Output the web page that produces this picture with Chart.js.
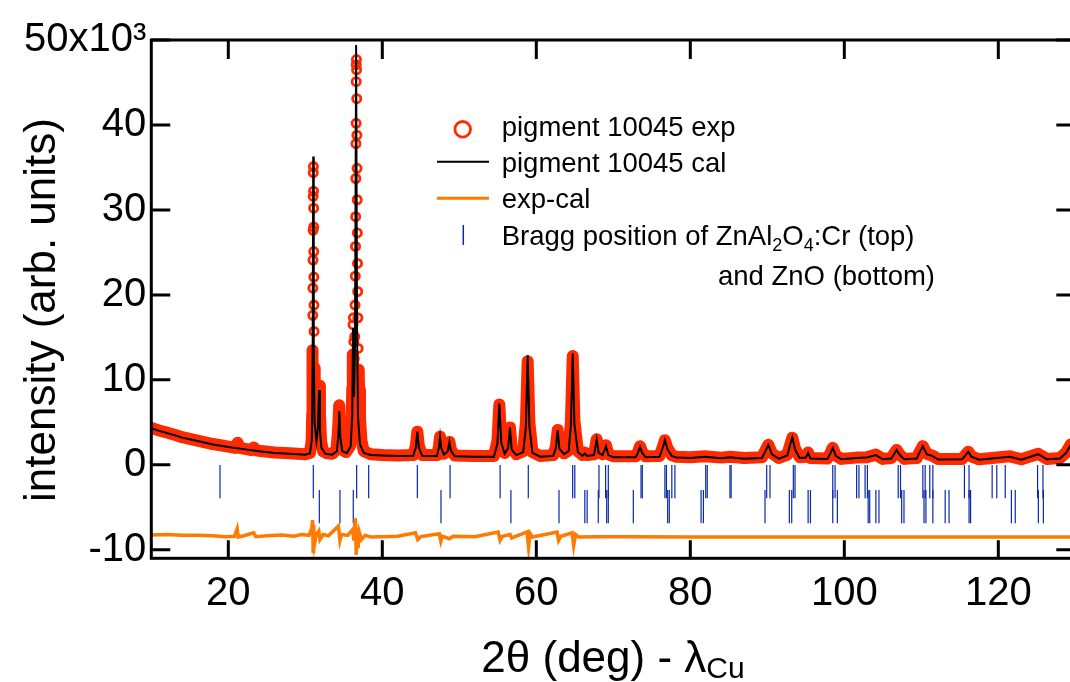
<!DOCTYPE html>
<html>
<head>
<meta charset="utf-8">
<script src="https://cdn.jsdelivr.net/npm/chart.js@4.4.1/dist/chart.umd.min.js"></script>
<style>
html,body{margin:0;padding:0;background:#fff;overflow:hidden;}
canvas{display:block;}
</style>
</head>
<body>
<canvas id="c" width="1070" height="682" style="width:1070px;height:682px"></canvas>
<script>
// calculated profile (x in deg 2theta, y in 10^3 counts)
const calX=[10,11,12,13,14,15,16,17,18,19,
  20,22,24,26,28,30,30.6,30.85,30.95,31.03,
  31.1,31.2,31.45,31.65,31.78,31.9,32.1,32.6,33.5,34.1,
  34.3,34.42,34.55,34.8,35.4,35.9,36.1,36.2,36.32,36.45,
  36.6,36.72,36.85,37.1,37.6,38.5,40,42,44,44.35,
  44.55,44.75,45.2,47.1,47.35,47.5,47.65,48,48.5,48.72,
  48.9,49.4,52,54.5,54.95,55.2,55.45,55.9,56.35,56.58,
  56.8,57.4,58.3,58.65,58.88,59.1,59.5,60.5,62.2,62.55,
  62.78,63,63.6,64.2,64.5,64.73,64.95,65.4,66,66.3,
  66.6,67.5,67.84,68.1,68.6,69.05,69.35,70,72.9,73.2,
  73.47,73.75,74.2,76,76.35,76.7,77.05,77.6,78.2,80,
  81.9,84,85.2,87,89.3,89.7,90.13,90.6,91.5,92.6,
  92.95,93.25,93.6,94.2,95,95.3,95.6,97.8,98.2,98.5,
  98.9,99.6,101.6,102.9,104.1,105,106.1,106.5,106.8,107.2,
  107.8,109.4,109.8,110.2,110.7,111.4,112.2,115.3,115.8,116.1,
  116.5,117.5,121.5,123,125.2,126.3,128,128.8,129.4,130];
const calY=[4.3,4.0,3.75,3.5,3.2,3.0,2.8,2.6,2.4,2.25,
  2.1,1.85,1.6,1.4,1.3,1.2,1.35,3.0,12.0,36.3,
  14.0,5.0,2.8,4.5,8.8,4.0,2.0,1.3,1.2,1.6,
  3.5,6.3,3.2,1.6,1.4,2.2,6.0,16.1,8.0,14.0,
  49.4,16.0,5.5,2.4,1.4,1.15,1.1,1.05,1.05,2.0,
  3.9,2.0,1.05,1.05,2.0,3.3,2.0,1.2,1.6,2.7,
  1.7,1.0,0.95,0.95,2.5,7.2,2.6,1.3,2.0,4.4,
  1.8,1.15,1.5,4.5,12.9,4.5,1.4,0.95,1.05,2.0,
  4.1,1.9,1.25,1.6,4.8,13.1,4.8,1.5,1.05,1.35,
  1.05,1.15,3.0,1.4,1.15,2.2,1.15,0.9,0.9,1.4,
  2.1,1.4,0.9,0.95,1.8,2.9,1.8,1.05,0.85,0.8,
  0.95,0.78,0.88,0.72,0.8,1.5,2.35,1.25,0.72,1.1,
  2.3,3.25,1.8,0.8,0.85,1.4,0.75,0.7,1.35,2.0,
  1.05,0.65,0.8,0.85,1.15,0.65,0.75,1.3,1.75,1.15,
  0.65,0.75,1.5,2.2,1.25,1.05,0.62,0.65,1.2,1.55,
  0.95,0.6,0.95,0.6,1.25,0.65,0.75,1.4,2.35,2.9];

// experimental points
const expX=[10,10.5,11,12,13,14,15,16,17,18,
  19,20,20.9,21.2,21.5,22,23,23.3,23.6,24,
  26,28,30,30.6,30.82,30.9,30.93,30.95,30.97,30.98,
  31,31.01,31.02,31.03,31.05,31.07,31.08,31.09,31.1,31.11,
  31.12,31.14,31.17,31.22,31.3,31.45,31.6,31.72,31.8,31.9,
  32.05,32.3,32.8,33.5,34.05,34.25,34.4,34.55,34.75,35.3,
  35.8,36,36.1,36.17,36.2,36.24,36.3,36.36,36.42,36.46,
  36.49,36.52,36.54,36.56,36.58,36.6,36.61,36.62,36.64,36.66,
  36.68,36.7,36.72,36.74,36.76,36.78,36.8,36.83,36.86,36.9,
  36.95,37,37.1,37.3,37.6,38.5,40,42,44,44.35,
  44.55,44.75,45.2,47.1,47.35,47.5,47.65,48,48.5,48.72,
  48.9,49.4,52,54.5,54.95,55.2,55.45,55.9,56.35,56.58,
  56.8,57.4,58.3,58.65,58.88,59.1,59.5,60.5,62.2,62.55,
  62.78,63,63.6,64.2,64.5,64.73,64.95,65.4,66,66.3,
  66.6,67.5,67.84,68.1,68.6,69.05,69.35,70,72.9,73.2,
  73.47,73.75,74.2,76,76.35,76.7,77.05,77.6,78.2,80,
  81.9,84,85.2,87,89.3,89.7,90.13,90.6,91.5,92.6,
  92.95,93.25,93.6,94.2,95,95.3,95.6,97.8,98.2,98.5,
  98.9,99.6,101.6,102.9,104.1,105,106.1,106.5,106.8,107.2,
  107.8,109.4,109.8,110.2,110.7,111.4,112.2,115.3,115.8,116.1,
  116.5,117.5,121.5,123,125.2,126.3,128,128.8,129.4,130];
const expY=[4.35,4.2,4.05,3.8,3.55,3.25,3.05,2.85,2.65,2.45,
  2.3,2.15,2.0,2.6,2.0,1.9,1.75,2.05,1.7,1.65,
  1.45,1.35,1.25,1.4,2.8,6.0,10.0,13.5,17.6,20.8,
  24.1,27.6,31.6,34.4,35.1,32.2,30.2,28.0,25.1,22.1,
  18.8,15.7,11.4,7.0,4.5,3.3,5.5,8.5,9.3,6.0,
  2.8,1.6,1.35,1.3,1.8,4.0,7.0,3.8,1.8,1.5,
  2.2,4.5,9.0,13.0,16.5,17.3,14.5,12.5,15.1,18.8,
  22.2,25.7,29.2,33.7,37.8,40.2,45.1,47.1,47.7,46.5,
  43.1,38.8,34.9,31.2,27.3,23.7,20.4,17.3,13.7,11.2,
  10.0,8.8,5.5,2.8,1.6,1.25,1.15,1.1,1.15,2.2,
  3.9,2.2,1.15,1.15,2.1,3.3,2.1,1.3,1.7,2.7,
  1.8,1.1,1.05,1.05,2.8,7.1,2.8,1.4,2.2,4.4,
  2.0,1.25,1.6,5.0,12.2,5.0,1.5,1.05,1.15,2.2,
  4.1,2.0,1.35,1.7,5.2,12.8,5.2,1.6,1.15,1.45,
  1.15,1.25,3.0,1.5,1.25,2.3,1.25,1.0,1.0,1.5,
  2.2,1.5,1.0,1.05,1.9,2.9,1.9,1.15,0.95,0.9,
  1.0,0.85,0.95,0.8,0.9,1.6,2.35,1.35,0.8,1.2,
  2.3,3.2,1.9,0.9,0.95,1.45,0.8,0.75,1.4,2.0,
  1.1,0.7,0.85,0.9,1.2,0.7,0.8,1.35,1.75,1.2,
  0.7,0.8,1.55,2.2,1.3,1.1,0.68,0.7,1.25,1.55,
  1.0,0.65,1.0,0.65,1.3,0.7,0.8,1.45,2.4,3.0];

// exp - cal, shifted
const diffX=[10,12,14,16,18,19.5,20.8,21.15,21.3,22,
  23.3,23.6,25,27,28.5,29.5,30.5,30.85,30.95,31.02,
  31.08,31.2,31.4,31.75,31.9,32.3,33,34.3,34.5,34.7,
  35.5,36.15,36.3,36.5,36.62,36.72,36.85,37,37.3,37.8,
  38.5,40,42,44.3,44.6,45,47.4,47.6,47.8,48.7,
  49.2,52,55.05,55.3,55.6,56.6,56.8,58.8,59,59.2,
  59.5,62.7,62.9,63.2,64.65,64.85,65.1,65.5,68,72,
  80,90,100,110,120,130];
const diffY=[-8.25,-8.2,-8.3,-8.3,-8.35,-8.45,-8.4,-7.5,-8.5,-8.35,
  -8.0,-8.45,-8.35,-8.25,-8.4,-8.2,-8.3,-7.4,-6.5,-10.2,
  -7.1,-9.3,-8.3,-7.8,-8.8,-8.2,-8.35,-7.2,-8.9,-8.2,
  -8.3,-7.6,-8.9,-6.3,-10.6,-7.4,-9.8,-7.9,-8.8,-8.3,
  -8.5,-8.45,-8.4,-8.0,-8.8,-8.45,-8.1,-9.0,-8.4,-8.7,
  -8.4,-8.45,-7.9,-8.9,-8.4,-8.2,-8.6,-7.9,-9.7,-8.1,
  -8.5,-7.9,-8.9,-8.4,-8.0,-9.5,-8.2,-8.5,-8.45,-8.45,
  -8.5,-8.5,-8.5,-8.5,-8.5,-8.5];

// Bragg positions
const braggTop=[18.92,31.04,36.67,38.23,44.55,48.8,55.3,58.96,64.72,65.0,
  68.14,69.0,69.35,73.6,73.77,76.7,76.9,77.6,78.0,82.0,
  82.2,85.15,85.3,89.92,90.35,93.38,93.6,98.5,98.8,101.6,
  101.9,102.7,103.0,107.0,107.3,110.2,110.5,111.1,111.5,115.6,
  116.2,119.2,119.8,120.9,125.1,125.8];
const braggBottom=[31.82,34.5,36.23,47.62,56.7,62.95,66.3,66.6,68.05,69.14,
  69.35,72.6,77.06,77.27,81.4,81.7,89.7,92.86,93.17,95.3,
  95.6,98.5,99.1,103.1,103.3,104.1,104.5,107.45,107.75,110.35,
  110.6,111.5,113.1,113.6,116.2,116.4,121.7,122.2,125.2,125.85];

const xTicks=[20,40,60,80,100,120];
const yTicks=[-10,0,10,20,30,40,50];
const X_END=130; // the axis frame ends at 130, just past the picture edge
const legendLabels=['pigment 10045 exp','pigment 10045 cal','exp-cal'];

const RED='#ff2a00',ORANGE='#ff7a00',BLUE='#0a28a8';
const FONT='"Liberation Sans", Arial, sans-serif';
const TOP_ROW=-1.98,BOTTOM_ROW=-4.92;
const pts=(xs,ys)=>xs.map((x,i)=>({x,y:ys[i]}));
const row=(xs,y)=>xs.map(x=>({x,y}));

function runs(ctx,x,y,parts){
  parts.forEach(p=>{
    ctx.font=p[1]+'px '+FONT;
    ctx.fillText(p[0],x,y+(p[2]||0));
    x+=ctx.measureText(p[0]).width;
  });
}

const decor={id:'decor',afterDraw(ch){
  const {ctx,chartArea:a,scales:{x,y}}=ch;
  const right=x.getPixelForValue(X_END);
  ctx.save();
  ctx.strokeStyle='#000';ctx.lineWidth=3;
  ctx.strokeRect(a.left,a.top,right-a.left,a.bottom-a.top);
  ctx.beginPath();
  x.ticks.forEach(t=>{const p=x.getPixelForValue(t.value);
    ctx.moveTo(p,a.bottom);ctx.lineTo(p,a.bottom-18);
    ctx.moveTo(p,a.top);ctx.lineTo(p,a.top+19);});
  y.ticks.forEach(t=>{const p=y.getPixelForValue(t.value);
    ctx.moveTo(a.left,p);ctx.lineTo(a.left+19,p);
    ctx.moveTo(right,p);ctx.lineTo(right-19,p);});
  ctx.stroke();

  // legend
  ctx.strokeStyle=RED;ctx.lineWidth=2.8;
  ctx.beginPath();ctx.arc(462.7,129.3,7.8,0,Math.PI*2);ctx.stroke();
  ctx.strokeStyle='#000';ctx.lineWidth=2;
  ctx.beginPath();ctx.moveTo(437,161.7);ctx.lineTo(489,161.7);ctx.stroke();
  ctx.strokeStyle=ORANGE;ctx.lineWidth=3;
  ctx.beginPath();ctx.moveTo(437,198.3);ctx.lineTo(489,198.3);ctx.stroke();
  ctx.strokeStyle=BLUE;ctx.lineWidth=1.5;
  ctx.beginPath();ctx.moveTo(463.3,225);ctx.lineTo(463.3,245);ctx.stroke();
  ctx.fillStyle='#000';ctx.textAlign='left';ctx.textBaseline='alphabetic';
  ctx.font='27.5px '+FONT;
  ctx.fillText(legendLabels[0],501.7,136);
  ctx.fillText(legendLabels[1],501.7,171.7);
  ctx.fillText(legendLabels[2],501.7,208.3);
  runs(ctx,501.7,245,[['Bragg position of ZnAl',27.5],['2',18,6],['O',27.5],['4',18,6],[':Cr (top)',27.5]]);
  ctx.font='27.5px '+FONT;
  ctx.fillText('and ZnO (bottom)',718,285);

  // axis titles
  const main='2\u03b8 (deg) - \u03bb';
  ctx.font='44px '+FONT;const w1=ctx.measureText(main).width;
  ctx.font='30px '+FONT;const w2=ctx.measureText('Cu').width;
  runs(ctx,613-(w1+w2)/2,671.7,[[main,44],['Cu',30,6]]);
  ctx.translate(55,310);ctx.rotate(-Math.PI/2);
  ctx.textAlign='center';ctx.font='44px '+FONT;
  ctx.fillText('intensity (arb. units)',0,0);
  ctx.restore();
}};

new Chart(document.getElementById('c'),{
  type:'line',
  data:{datasets:[
    {label:legendLabels[1],data:pts(calX,calY),borderColor:'#000',borderWidth:2,pointRadius:0,tension:0,order:1},
    {label:legendLabels[2],data:pts(diffX,diffY),borderColor:ORANGE,borderWidth:3.5,pointRadius:0,tension:0,order:1},
    {label:'Bragg ZnAl2O4:Cr',data:row(braggTop,TOP_ROW),showLine:false,pointStyle:'line',rotation:90,
      pointRadius:16.6,pointBorderWidth:1.2,pointBorderColor:BLUE,borderColor:BLUE,order:1},
    {label:'Bragg ZnO',data:row(braggBottom,BOTTOM_ROW),showLine:false,pointStyle:'line',rotation:90,
      pointRadius:16.6,pointBorderWidth:1.2,pointBorderColor:BLUE,borderColor:BLUE,order:1},
    {label:legendLabels[0],data:pts(expX,expY),borderColor:RED,borderWidth:12,tension:0,
      borderJoinStyle:'round',borderCapStyle:'round',
      segment:{borderColor:c=>Math.max(c.p0.parsed.y,c.p1.parsed.y)>13.5?'rgba(0,0,0,0)':RED},
      pointStyle:'circle',pointRadius:4.1,pointBorderWidth:2.8,pointBorderColor:RED,
      pointBackgroundColor:'rgba(0,0,0,0)',order:5}
  ]},
  options:{
    responsive:false,animation:false,devicePixelRatio:1,
    layout:{autoPadding:false,padding:{top:40,right:0,left:0,bottom:0}},
    plugins:{legend:{display:false},tooltip:{enabled:false}},
    events:[],
    scales:{
      x:{type:'linear',min:10,max:129.31,
        afterBuildTicks:s=>{s.ticks=xTicks.map(v=>({value:v}));},
        afterFit:s=>{s.height=123.7;},
        grid:{display:true,drawOnChartArea:false,drawTicks:false},
        border:{display:false},
        ticks:{font:{family:FONT,size:40},color:'#000',padding:12,maxRotation:0}},
      y:{type:'linear',min:-11,max:50,
        afterBuildTicks:s=>{s.ticks=yTicks.map(v=>({value:v}));},
        afterFit:s=>{s.width=151.3;},
        grid:{display:true,drawOnChartArea:false,drawTicks:false},
        border:{display:false},
        ticks:{font:{family:FONT,size:40},color:'#000',padding:5,
          callback:v=>v===50?'50x10\u00b3':String(v)}}
    }
  },
  plugins:[decor]
});
</script>
</body>
</html>
